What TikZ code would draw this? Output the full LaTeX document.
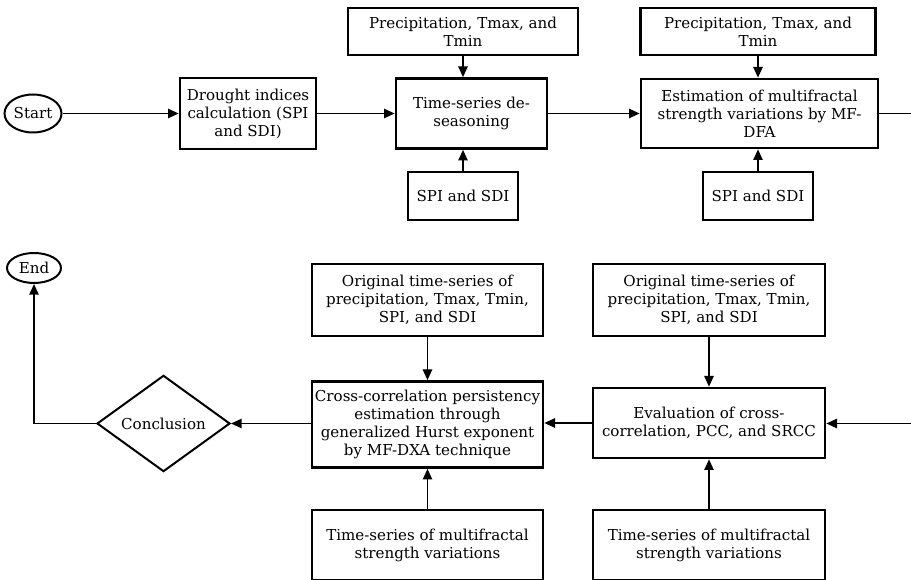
\documentclass[tikz,border=0pt]{standalone}
\usepackage{fontspec}
\setmainfont{DejaVu Serif}
\usetikzlibrary{positioning,arrows.meta,shapes.geometric}

\begin{document}
\begin{tikzpicture}[
    x=0.75pt, y=-0.75pt,
    txt/.style={font=\fontsize{11.3}{13.5}\selectfont, align=center, inner sep=0pt},
    box/.style={txt, draw, line width=2pt},
    term/.style={txt, draw, ellipse, line width=1.5pt},
    decision/.style={txt, draw, diamond, line width=1.5pt},
    arr/.style={-{Triangle[length=8pt, width=7pt]}, line width=1.1pt},
    plain/.style={line width=1.1pt},
]
    \useasboundingbox (0,0) rectangle (911,580);

    % === TOP ROW ===
    \node[term, minimum width=42.75pt, minimum height=28.5pt] (start) at (33, 113.5) {Start};
    \node[box, minimum width=102pt, minimum height=53.25pt] (drought) at (248, 113.5) {Drought indices\\calculation (SPI\\and SDI)};
    \node[box, minimum width=113.25pt, minimum height=52.5pt] (deseason) at (471.5, 113.5) {Time-series de-\\seasoning};
    \node[box, minimum width=177.75pt, minimum height=51.75pt] (mfdfa) at (759.5, 113.5) {Estimation of multifractal\\strength variations by MF-\\DFA};
    \coordinate (outtop) at (911, 113.5);

    % inputs above / below
    \node[box, minimum width=172.5pt, minimum height=35.25pt] (precipA) at (463, 31.5) {Precipitation, Tmax, and\\Tmin};
    \node[box, minimum width=82.5pt, minimum height=36pt] (spiA) at (463, 196) {SPI and SDI};
    \node[box, minimum width=176.25pt, minimum height=35.25pt] (precipB) at (758, 31.5) {Precipitation, Tmax, and\\Tmin};
    \node[box, minimum width=82.5pt, minimum height=36pt] (spiB) at (758, 196) {SPI and SDI};

    % === BOTTOM ROW ===
    \node[term, minimum width=40.5pt, minimum height=22.5pt] (finish) at (34, 268) {End};
    \node[decision, minimum width=99.75pt, minimum height=54.75pt] (concl) at (163.5, 423.5) {Conclusion};
    \node[box, minimum width=173.25pt, minimum height=64.5pt] (mfdxa) at (427.5, 424.5) {Cross-correlation persistency\\estimation through\\generalized Hurst exponent\\by MF-DXA technique};
    \node[box, minimum width=174pt, minimum height=52.5pt] (eval) at (709, 423) {Evaluation of cross-\\correlation, PCC, and SRCC};
    \coordinate (inbot) at (911, 423.5);

    % inputs above / below
    \node[box, minimum width=173.25pt, minimum height=54pt] (origA) at (427.5, 300) {Original time-series of\\precipitation, Tmax, Tmin,\\SPI, and SDI};
    \node[box, minimum width=173.25pt, minimum height=52.5pt] (seriesA) at (427.5, 545) {Time-series of multifractal\\strength variations};
    \node[box, minimum width=174pt, minimum height=54pt] (origB) at (709, 300) {Original time-series of\\precipitation, Tmax, Tmin,\\SPI, and SDI};
    \node[box, minimum width=174pt, minimum height=52.5pt] (seriesB) at (709, 545) {Time-series of multifractal\\strength variations};

    % === ARROWS: top row ===
    \draw[arr] (start) -- (drought);
    \draw[arr] (drought) -- (deseason);
    \draw[arr] (deseason) -- (mfdfa);
    \draw[plain] (mfdfa) -- (outtop);
    \draw[arr] (precipA) -- (precipA |- deseason.north);
    \draw[arr] (spiA) -- (spiA |- deseason.south);
    \draw[arr] (precipB) -- (precipB |- mfdfa.north);
    \draw[arr] (spiB) -- (spiB |- mfdfa.south);

    % === ARROWS: bottom row ===
    \draw[arr] (inbot) -- (inbot -| eval.east);
    \draw[arr] (eval.west) -- (eval.west -| mfdxa.east);
    \draw[arr] (mfdxa.west |- concl) -- (concl.east);
    \draw[arr] (concl.west) -| (finish.south);
    \draw[arr] (origA) -- (mfdxa);
    \draw[arr] (seriesA) -- (mfdxa);
    \draw[arr] (origB) -- (eval);
    \draw[arr] (seriesB) -- (eval);
\end{tikzpicture}
\end{document}
